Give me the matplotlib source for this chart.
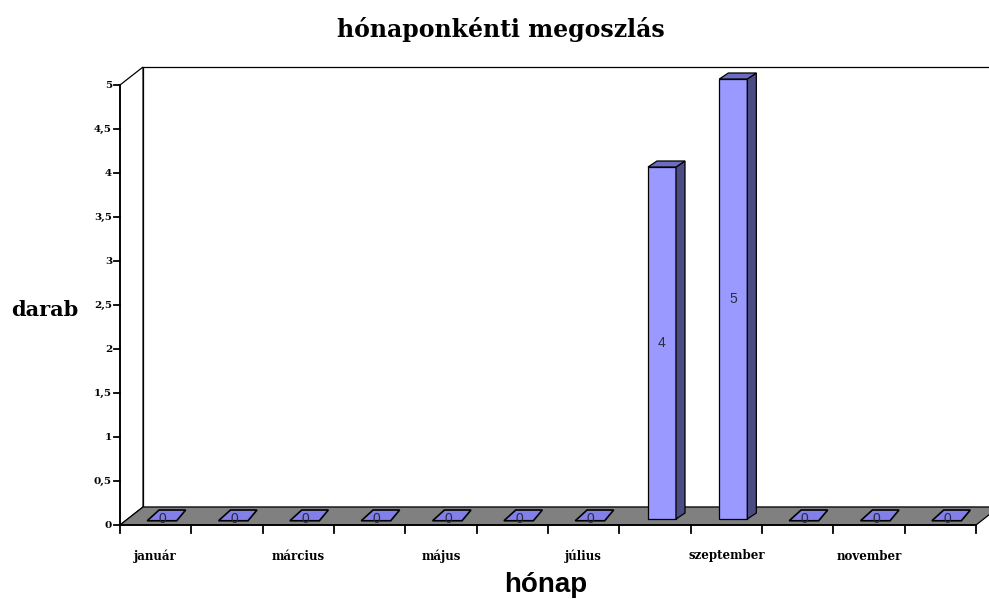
import numpy as np
import matplotlib
matplotlib.use("Agg")
import matplotlib.pyplot as plt
from matplotlib.patches import Polygon

months = ["január", "február", "március", "április", "május", "június",
          "július", "augusztus", "szeptember", "október", "november", "december"]
counts = [0, 0, 0, 0, 0, 0, 0, 4, 5, 0, 0, 0]
y_ticks = [0, 0.5, 1, 1.5, 2, 2.5, 3, 3.5, 4, 4.5, 5]
y_max = 5

# pixel layout of the fake-3d plot
W, H = 989, 599
px_left, px_right = 120, 976        # front floor edge, category -0.5 .. 11.5
px_zero, px_top = 525, 85           # value 0 and value 5 on the front plane
sx = (px_right - px_left) / len(months)
sy = (px_zero - px_top) / y_max

# depth offsets (data units)
wall_dx, wall_dy = 23 / sx, 18 / sy
bar_dx, bar_dy = 9 / sx, 6 / sy
bar_w = 28 / sx
shift_x = (wall_dx - bar_dx) / 2
shift_y = (wall_dy - bar_dy) / 2

front = "#9999ff"
side = "#4c4c85"
top = "#6c6cc0"
serif = "DejaVu Serif"

fig = plt.figure(figsize=(W / 100, H / 100), dpi=100)
ax = fig.add_axes([0, 0, 1, 1])
ax.set_xlim(-0.5 - px_left / sx, -0.5 + (W - px_left) / sx)
ax.set_ylim(-(H - px_zero) / sy, px_zero / sy)
ax.axis("off")

x0, x1 = -0.5, len(months) - 0.5


def poly(pts, fc, lw=0.9, z=1):
    ax.add_patch(Polygon(pts, closed=True, facecolor=fc, edgecolor="black",
                         linewidth=lw, zorder=z))


# walls and floor
poly([(x0 + wall_dx, wall_dy), (x1 + wall_dx, wall_dy),
      (x1 + wall_dx, y_max + wall_dy), (x0 + wall_dx, y_max + wall_dy)], "white", z=1)
poly([(x0, 0), (x0 + wall_dx, wall_dy), (x0 + wall_dx, y_max + wall_dy),
      (x0, y_max)], "white", z=1)
poly([(x0, 0), (x1, 0), (x1 + wall_dx, wall_dy), (x0 + wall_dx, wall_dy)],
     "#808080", z=2)

# axes lines and ticks
ax.plot([x0, x0], [0, y_max], color="black", lw=1.3, zorder=5)
ax.plot([x0, x1], [0, 0], color="black", lw=1.3, zorder=5)
for v in y_ticks:
    ax.plot([x0 - 6 / sx, x0], [v, v], color="black", lw=1.3, zorder=5)
    ax.text(x0 - 8 / sx, v, f"{v:g}".replace(".", ","), ha="right", va="center",
            fontsize=7.5, fontweight="bold", family=serif)
for k in range(len(months) + 1):
    ax.plot([x0 + k, x0 + k], [0, -8 / sy], color="black", lw=1.3, zorder=5)

# columns
for i, (m, v) in enumerate(zip(months, counts)):
    bx = i - bar_w / 2 + shift_x
    by = shift_y
    if v > 0:
        poly([(bx, by), (bx + bar_w, by), (bx + bar_w, by + v), (bx, by + v)],
             front, z=3)
        poly([(bx + bar_w, by), (bx + bar_w + bar_dx, by + bar_dy),
              (bx + bar_w + bar_dx, by + v + bar_dy), (bx + bar_w, by + v)],
             side, z=3)
        poly([(bx, by + v), (bx + bar_w, by + v),
              (bx + bar_w + bar_dx, by + v + bar_dy), (bx + bar_dx, by + v + bar_dy)],
             top, z=3)
    else:
        poly([(bx - 0.02, by - 0.02), (bx + bar_w, by - 0.02),
              (bx + bar_w + bar_dx, by + 1.5 * bar_dy),
              (bx + bar_dx + 0.02, by + 1.5 * bar_dy)], "#8080e8", lw=1.2, z=3)
    ax.text(bx + bar_w / 2, by + v / 2, str(v), ha="center", va="center",
            fontsize=10, family="Liberation Sans", color="#2a2a3a", zorder=6)

# every second month label
for i in range(0, len(months), 2):
    ax.text(i, -31 / sy, months[i], ha="center", va="center", fontsize=8.5,
            fontweight="bold", family=serif)

fig.text(501 / W, 1 - 30 / H, "hónaponkénti megoszlás", ha="center", va="center",
         fontsize=17, fontweight="bold", family=serif)
fig.text(45 / W, 1 - 310 / H, "darab", ha="center", va="center",
         fontsize=15, fontweight="bold", family=serif)
fig.text(546 / W, 1 - 585 / H, "hónap", ha="center", va="center",
         fontsize=20, fontweight="bold", family="Liberation Sans")

fig.savefig("out.png", dpi=100)
